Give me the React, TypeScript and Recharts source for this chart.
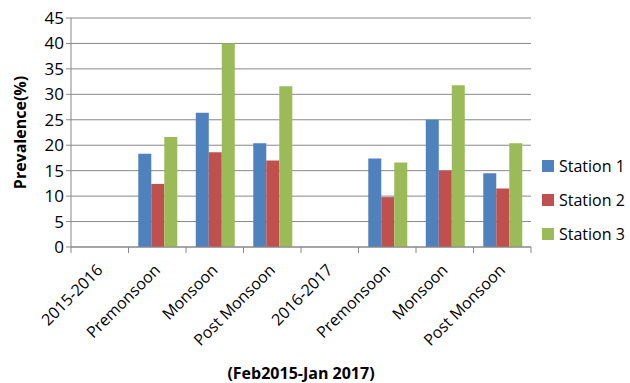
import { BarChart, Bar, XAxis, YAxis, CartesianGrid, Legend } from "recharts";

const seasons = [
  "2015-2016",
  "Premonsoon",
  "Monsoon",
  "Post Monsoon",
  "2016-2017",
  "Premonsoon",
  "Monsoon",
  "Post Monsoon",
];

const station1 = [null, 18.3, 26.4, 20.4, null, 17.4, 25, 14.5];
const station2 = [null, 12.4, 18.6, 17, null, 9.8, 15, 11.5];
const station3 = [null, 21.6, 40, 31.6, null, 16.6, 31.8, 20.4];

const yTicks = [0, 5, 10, 15, 20, 25, 30, 35, 40, 45];

const data = seasons.map((season, i) => ({
  season,
  s1: station1[i],
  s2: station2[i],
  s3: station3[i],
}));

const FONT = "'Open Sans', sans-serif";
const LEFT = 71;
const PLOT_RIGHT = 531;
const LEGEND_W = 90;
const WIDTH = 630;
const HEIGHT = 383;

// rotated category label plus a tick mark on each category boundary
function SeasonTick(props: any) {
  const { x, y, payload, index } = props;
  const band = (PLOT_RIGHT - LEFT) / seasons.length;
  const left = x - band / 2;
  const tx = x + 4;
  const ty = y + 16;
  return (
    <g>
      <line x1={left} y1={y - 8} x2={left} y2={y - 2} stroke="#888" />
      {index === seasons.length - 1 && (
        <line x1={left + band} y1={y - 8} x2={left + band} y2={y - 2} stroke="#888" />
      )}
      <text
        x={tx}
        y={ty}
        textAnchor="end"
        transform={`rotate(-45, ${tx}, ${ty})`}
        fontSize={16}
        fontFamily={FONT}
        fill="#000"
      >
        {payload.value}
      </text>
    </g>
  );
}

function StationLegend(props: any) {
  const { payload } = props;
  return (
    <div style={{ fontFamily: FONT, fontSize: 16, whiteSpace: "nowrap" }}>
      {(payload || []).map((entry: any) => (
        <div key={entry.value} style={{ display: "flex", alignItems: "center", height: 34 }}>
          <span
            style={{
              display: "inline-block",
              width: 12,
              height: 12,
              background: entry.color,
              marginRight: 5,
            }}
          />
          <span style={{ color: "#000" }}>{entry.value}</span>
        </div>
      ))}
    </div>
  );
}

export default function App() {
  return (
    <div style={{ position: "absolute", left: 0, top: 0, background: "#fff" }}>
      <BarChart
        width={WIDTH}
        height={HEIGHT}
        data={data}
        margin={{ top: 18, right: WIDTH - PLOT_RIGHT - LEGEND_W, bottom: 4, left: 0 }}
        barCategoryGap="17%"
        barGap={0}
      >
        <CartesianGrid vertical={false} stroke="#888" />
        <XAxis
          dataKey="season"
          interval={0}
          tickLine={false}
          axisLine={{ stroke: "#888" }}
          tick={<SeasonTick />}
          height={132}
          label={{
            value: "(Feb2015-Jan 2017)",
            position: "insideBottom",
            offset: 0,
            fontSize: 16,
            fontWeight: "bold",
            fontFamily: FONT,
            fill: "#000",
          }}
        />
        <YAxis
          width={LEFT}
          domain={[0, 45]}
          ticks={yTicks}
          interval={0}
          axisLine={{ stroke: "#888" }}
          tickLine={{ stroke: "#888" }}
          tickSize={5}
          tick={{ fontSize: 17, fontFamily: FONT, fill: "#000" }}
          label={{
            value: "Prevalence(%)",
            angle: -90,
            position: "insideLeft",
            offset: 20,
            fontSize: 16,
            fontWeight: "bold",
            fontFamily: FONT,
            fill: "#000",
            style: { textAnchor: "middle" },
          }}
        />
        <Legend
          layout="vertical"
          align="right"
          verticalAlign="middle"
          content={<StationLegend />}
          wrapperStyle={{ left: 542, top: 149, width: LEGEND_W }}
        />
        <Bar dataKey="s1" name="Station 1" fill="#4f81bd" isAnimationActive={false} />
        <Bar dataKey="s2" name="Station 2" fill="#c0504d" isAnimationActive={false} />
        <Bar dataKey="s3" name="Station 3" fill="#9bbb59" isAnimationActive={false} />
      </BarChart>
    </div>
  );
}
